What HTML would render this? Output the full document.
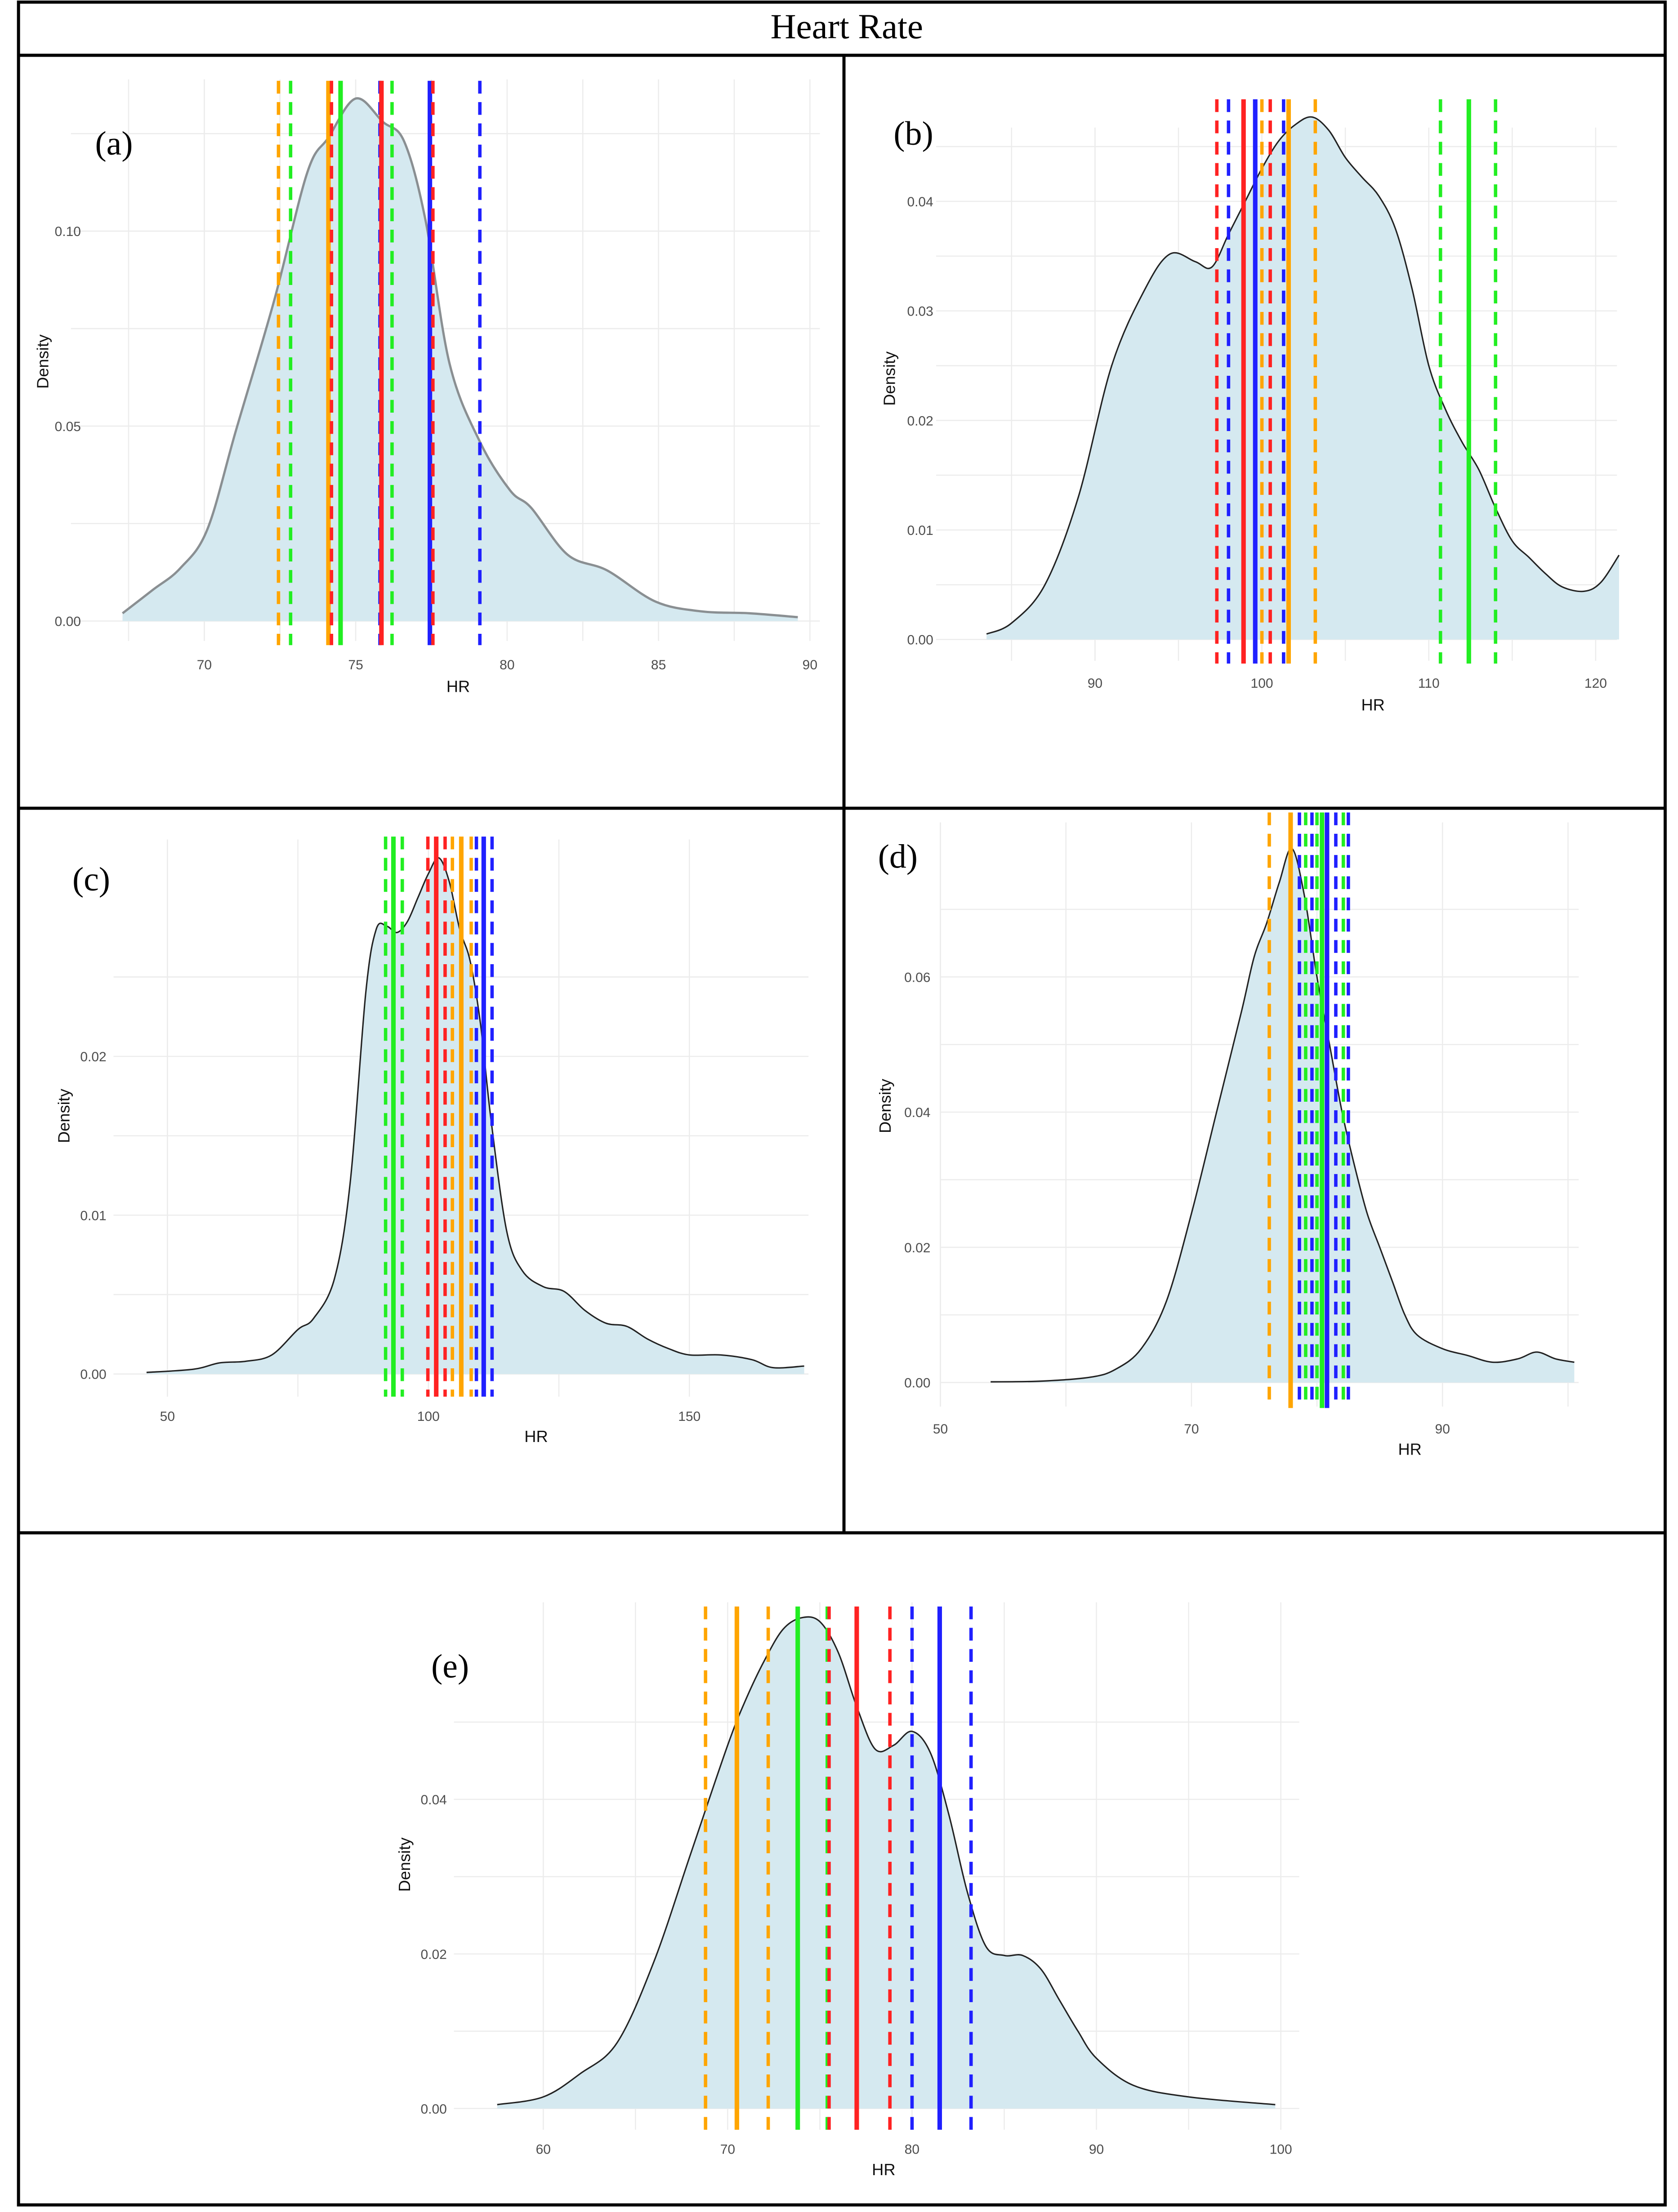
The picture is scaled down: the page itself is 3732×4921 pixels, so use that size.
<!DOCTYPE html>
<html><head><meta charset="utf-8"><style>
html,body{margin:0;padding:0;background:#fff;}
svg{display:block;}
</style></head><body>
<svg id="fig" xmlns="http://www.w3.org/2000/svg" width="3732" height="4921" viewBox="0 0 1183 1560" font-family="'Liberation Sans', sans-serif">
<rect x="0" y="0" width="1183" height="1560" fill="#fff"/>
<g stroke="#000" stroke-width="2.2" fill="none">
<rect x="13" y="1.5" width="1161" height="1553.5"/>
<line x1="13" y1="39" x2="1174" y2="39"/>
<line x1="13" y1="570" x2="1174" y2="570"/>
<line x1="13" y1="1081" x2="1174" y2="1081"/>
<line x1="595" y1="39" x2="595" y2="1081"/>
</g>
<text x="597" y="27" text-anchor="middle" font-family="'Liberation Serif', serif" font-size="25">Heart Rate</text>
<g id="panels"></g>
</svg>
<script>
// ---- Panel (a) data ----
const aHR = [67.3,68.3,69.2,70.1,71.05,72.3,73.4,74.1,75,75.9,76.6,77.3,78.1,79.1,80.1,80.8,82.0,83.3,84.9,86.4,88,89.6];
const aDen = [0.002,0.008,0.0135,0.0235,0.049,0.082,0.115,0.124,0.134,0.128,0.123,0.103,0.066,0.046,0.0335,0.029,0.017,0.013,0.005,0.0025,0.002,0.001];
const aLineX = [72.45,72.85,74.1,74.2,74.5,75.8,75.85,76.2,77.45,77.55,79.1];
const aLineGroup = ['orange','green','orange','red','green','blue','red','green','blue','red','blue'];
const aLineSolid = [0,0,1,0,1,0,1,0,1,0,0];
const aXTicks = [70,75,80,85,90];
const aYTicks = [0,0.05,0.10];
const aYTickLabels = ['0.00','0.05','0.10'];
// ---- Panel (b) data ----
const bHR = [83.5,85,87,89,91,93,94.5,96,97,98,99,100,101,102,103,104,105,106,107,108,109,110,111,112,113,114,115,116,117,118,119.3,120.3,121.4];
const bDen = [0.0005,0.0015,0.005,0.013,0.025,0.032,0.0352,0.0345,0.034,0.037,0.040,0.043,0.0455,0.047,0.0477,0.0465,0.044,0.0422,0.0405,0.0375,0.032,0.025,0.021,0.018,0.0155,0.012,0.009,0.0075,0.006,0.0048,0.0044,0.0052,0.0077];
const bLineX = [97.3,98.0,98.9,99.6,100.0,100.5,101.3,101.6,103.2,110.7,112.4,114.0];
const bLineGroup = ['red','blue','red','blue','orange','red','blue','orange','orange','green','green','green'];
const bLineSolid = [0,0,1,1,0,0,0,1,0,0,1,0];
const bXTicks = [90,100,110,120];
const bYTicks = [0,0.01,0.02,0.03,0.04];
const bYTickLabels = ['0.00','0.01','0.02','0.03','0.04'];
// ---- Panel (c) data ----
const cHR = [46,55,60,65,70,75,78,82,85,88,90,92,94,96,98,100,102,104,106,108,110,112,115,118,122,126,130,134,138,142,146,150,156,162,166,172];
const cDen = [0.0001,0.0003,0.0007,0.0008,0.0012,0.0028,0.0035,0.006,0.012,0.024,0.028,0.0282,0.0278,0.0285,0.03,0.0315,0.0325,0.031,0.028,0.026,0.022,0.016,0.009,0.0065,0.0055,0.0052,0.004,0.0032,0.003,0.0022,0.0016,0.0012,0.0012,0.0009,0.0004,0.0005];
const cLineX = [91.8,93.3,95.0,99.9,101.5,103.2,104.6,106.3,108.2,109.2,110.6,112.2];
const cLineGroup = ['green','green','green','red','red','red','orange','orange','orange','blue','blue','blue'];
const cLineSolid = [0,1,0,0,1,0,0,1,0,0,1,0];
const cXTicks = [50,100,150];
const cYTicks = [0,0.01,0.02];
const cYTickLabels = ['0.00','0.01','0.02'];
// ---- Panel (d) data ----
const dHR = [54,58,62,64,66,68,70,72,74,75,76,77,78,79,80,81,82,83,84,85,86,87,88,90,92,94,96,97.5,99,100.5];
const dDen = [0.0001,0.0002,0.0008,0.002,0.005,0.012,0.025,0.04,0.055,0.063,0.068,0.074,0.079,0.072,0.06,0.05,0.04,0.032,0.025,0.02,0.015,0.01,0.007,0.005,0.004,0.003,0.0035,0.0045,0.0035,0.003];
const dLineX = [76.2,77.9,78.6,79.1,79.6,80.0,80.4,80.8,81.5,82.1,82.5];
const dLineGroup = ['orange','orange','blue','green','blue','green','green','blue','blue','green','blue'];
const dLineSolid = [0,1,0,0,0,0,1,1,0,0,0];
const dXTicks = [50,70,90];
const dYTicks = [0,0.02,0.04,0.06];
const dYTickLabels = ['0.00','0.02','0.04','0.06'];
// ---- Panel (e) data ----
const eHR = [57.5,60,62,64,66,68,70,71,72,73,74,75,76,77,78,79,80,81,82,83,84,85,86,87,88,89,90,92,95,99.7];
const eDen = [0.0005,0.0015,0.0045,0.0085,0.019,0.033,0.047,0.053,0.058,0.062,0.0635,0.063,0.059,0.052,0.0465,0.047,0.0488,0.046,0.038,0.028,0.021,0.0198,0.0198,0.018,0.014,0.01,0.0065,0.003,0.0015,0.0005];
const eLineX = [68.8,70.5,72.2,73.8,75.4,75.5,77.0,78.8,80.0,81.5,83.2];
const eLineGroup = ['orange','orange','orange','green','green','red','red','red','blue','blue','blue'];
const eLineSolid = [0,1,0,1,0,0,1,0,0,1,0];
const eXTicks = [60,70,80,90,100];
const eYTicks = [0,0.02,0.04];
const eYTickLabels = ['0.00','0.02','0.04'];

const COLORS = {orange:'#FFA500', green:'#22EE22', red:'#FF2222', blue:'#2020FF'};
const NS = 'http://www.w3.org/2000/svg';
const root = document.getElementById('panels');
function mk(tag, attrs, parent){
  const e = document.createElementNS(NS, tag);
  for (const k in attrs) e.setAttribute(k, attrs[k]);
  parent.appendChild(e);
  return e;
}
function panel(cfg){
  const g = mk('g', {}, root);
  
  
  const sx = v => cfg.x0 + (v - cfg.xv0) * (cfg.x1 - cfg.x0) / (cfg.xv1 - cfg.xv0);
  const sy = v => cfg.y0 - v * cfg.ky;
  const grid = mk('g', {stroke:'#ececec', 'stroke-width':0.8}, g);
  
  
  const step = cfg.xt[1] - cfg.xt[0];
  for (let i = -1; i < cfg.xt.length; i++) {
    const v = cfg.xt[Math.max(i,0)] + (i < 0 ? -step/2 : 0);
    [v, v + step/2].forEach(t => { const X = sx(t); if (X >= cfg.gx0 && X <= cfg.gx1) mk('line', {x1:X, x2:X, y1:cfg.gy0, y2:cfg.gy1}, grid); });
  }
  const ys = cfg.yt[1] - cfg.yt[0];
  for (let i = 0; i < cfg.yt.length; i++) {
    [cfg.yt[i], cfg.yt[i] + ys/2].forEach(t => { const Y = sy(t); if (Y >= cfg.gy0) mk('line', {x1:cfg.gx0, x2:cfg.gx1, y1:Y, y2:Y}, grid); });
  }
  const pts = cfg.hr.map((h,i)=>[sx(h), sy(cfg.den[i])]);
  let path = 'M' + pts[0][0] + ',' + pts[0][1];
  for (let i = 0; i < pts.length - 1; i++) {
    const p0 = pts[Math.max(i-1,0)], p1 = pts[i], p2 = pts[i+1], p3 = pts[Math.min(i+2,pts.length-1)];
    const c1 = [p1[0] + (p2[0]-p0[0])/6, p1[1] + (p2[1]-p0[1])/6];
    const c2 = [p2[0] - (p3[0]-p1[0])/6, p2[1] - (p3[1]-p1[1])/6];
    path += ' C' + c1[0] + ',' + c1[1] + ' ' + c2[0] + ',' + c2[1] + ' ' + p2[0] + ',' + p2[1];
  }
  const fillP = mk('path', {d: path + ' L' + pts[pts.length-1][0] + ',' + sy(0) + ' L' + pts[0][0] + ',' + sy(0) + 'Z', fill:'#d5e9f0', stroke:'none'}, g);
  
  
  const lineP = mk('path', {d: path, fill:'none', stroke: cfg.curveColor, 'stroke-width': cfg.curveW}, g);
  
  
  cfg.lx.forEach((v,i)=>{
    const X = sx(v);
    const solid = cfg.ls[i] === 1;
    const l = mk('line', {x1:X, x2:X, y1:cfg.ly0, y2:cfg.ly1, stroke: COLORS[cfg.lg[i]], 'stroke-width': solid ? 3.2 : 2.4}, g);
    if (!solid) l.setAttribute('stroke-dasharray', '9 6');
    
    
  });
  cfg.xt.forEach(t=>{
    const tx = mk('text', {x:sx(t), y:cfg.xLabY, 'text-anchor':'middle', 'font-size':9.5, fill:'#4d4d4d'}, g);
    tx.textContent = t;
    
    
  });
  cfg.yt.forEach((t,i)=>{
    const ty = mk('text', {x:cfg.yLabX, y:sy(t)+3.5, 'text-anchor':'end', 'font-size':9.5, fill:'#4d4d4d'}, g);
    ty.textContent = cfg.ytl[i];
    
    
  });
  const xt = mk('text', {x:cfg.hrX, y:cfg.hrY, 'text-anchor':'middle', 'font-size':11.5, fill:'#111'}, g);
  xt.textContent = 'HR';
  
  
  const yt = mk('text', {x:0, y:0, 'text-anchor':'middle', 'font-size':11.5, fill:'#111', transform:'translate(' + cfg.dX + ',' + cfg.dY + ') rotate(-90)'}, g);
  yt.textContent = 'Density';
  
  
  const pl = mk('text', {x:cfg.plX, y:cfg.plY, 'font-size':24, 'font-family':"'Liberation Serif', serif", fill:'#000'}, g);
  pl.textContent = '(' + cfg.id + ')';
  
  
}
panel({id:'a', hr:aHR, den:aDen, lx:aLineX, lg:aLineGroup, ls:aLineSolid, xt:aXTicks, yt:aYTicks, ytl:aYTickLabels,
  x0:144, x1:571, xv0:70, xv1:90, y0:438, ky:2750, gx0:50, gx1:578, gy0:56, gy1:452, ly0:57, ly1:455,
  curveColor:'#8a8f92', curveW:1.6, xLabY:472, yLabX:57, hrX:323, hrY:488, dX:34, dY:255, plX:67, plY:109});
panel({id:'b', hr:bHR, den:bDen, lx:bLineX, lg:bLineGroup, ls:bLineSolid, xt:bXTicks, yt:bYTicks, ytl:bYTickLabels,
  x0:772, x1:1125, xv0:90, xv1:120, y0:451, ky:7725, gx0:660, gx1:1140, gy0:90, gy1:466, ly0:70, ly1:468,
  curveColor:'#222', curveW:1, xLabY:485, yLabX:658, hrX:968, hrY:501, dX:631, dY:267, plX:630, plY:102});
panel({id:'c', hr:cHR, den:cDen, lx:cLineX, lg:cLineGroup, ls:cLineSolid, xt:cXTicks, yt:cYTicks, ytl:cYTickLabels,
  x0:118, x1:486, xv0:50, xv1:150, y0:969, ky:11200, gx0:80, gx1:570, gy0:592, gy1:985, ly0:590, ly1:985,
  curveColor:'#222', curveW:1, xLabY:1002, yLabX:75, hrX:378, hrY:1017, dX:49, dY:787, plX:51, plY:628});
panel({id:'d', hr:dHR, den:dDen, lx:dLineX, lg:dLineGroup, ls:dLineSolid, xt:dXTicks, yt:dYTicks, ytl:dYTickLabels,
  x0:663, x1:1017, xv0:50, xv1:90, y0:975, ky:4767, gx0:663, gx1:1113, gy0:580, gy1:992, ly0:573, ly1:993,
  curveColor:'#222', curveW:1, xLabY:1011, yLabX:656, hrX:994, hrY:1026, dX:628, dY:780, plX:619, plY:612});
panel({id:'e', hr:eHR, den:eDen, lx:eLineX, lg:eLineGroup, ls:eLineSolid, xt:eXTicks, yt:eYTicks, ytl:eYTickLabels,
  x0:383, x1:903, xv0:60, xv1:100, y0:1487, ky:5450, gx0:320, gx1:916, gy0:1130, gy1:1502, ly0:1133, ly1:1502,
  curveColor:'#222', curveW:1, xLabY:1519, yLabX:315, hrX:623, hrY:1534, dX:289, dY:1315, plX:304, plY:1183});
</script>
</body></html>
